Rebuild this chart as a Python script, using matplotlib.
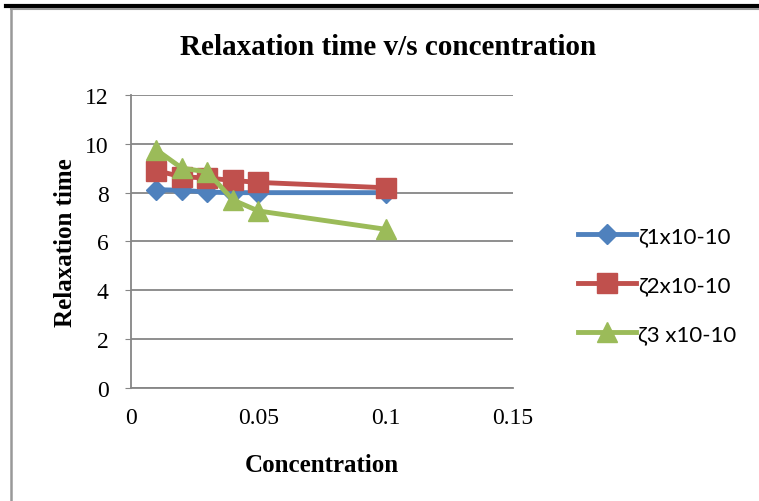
import matplotlib.pyplot as plt
from matplotlib.lines import Line2D

conc = [0.01, 0.02, 0.03, 0.04, 0.05, 0.1]
zeta1 = [8.12, 8.1, 8.02, 8.0, 8.0, 8.0]
zeta2 = [8.9, 8.65, 8.6, 8.5, 8.42, 8.2]
zeta3 = [9.75, 9.0, 8.85, 7.7, 7.25, 6.5]
labels = ['ζ1x10-10', 'ζ2x10-10', 'ζ3 x10-10']

xticks = [0, 0.05, 0.1, 0.15]
yticks = [0, 2, 4, 6, 8, 10, 12]

serif = 'Liberation Serif'
grid_col = '#868686'

fig = plt.figure(figsize=(7.59, 5.02), dpi=100)
ax = fig.add_axes([0.1726, 0.2251, 0.5033, 0.5837])

ax.plot(conc, zeta1, color='#4F81BD', lw=3.5, marker='D', ms=10,
        label=labels[0], zorder=3)
ax.plot(conc, zeta2, color='#C0504D', lw=3.5, marker='s', ms=14,
        label=labels[1], zorder=4)
ax.plot(conc, zeta3, color='#9BBB59', lw=3.5, marker='^', ms=14,
        label=labels[2], zorder=5)

ax.set_xlim(0, 0.15)
ax.set_ylim(0, 12)
ax.set_xticks(xticks)
ax.set_xticklabels(['0', '0.05', '0.1', '0.15'])
ax.set_yticks(yticks)
ax.grid(axis='y', color=grid_col, lw=1.3)
ax.set_axisbelow(True)
for s in ['top', 'right']:
    ax.spines[s].set_visible(False)
for s in ['left', 'bottom']:
    ax.spines[s].set_color(grid_col)
    ax.spines[s].set_linewidth(1.3)
ax.tick_params(axis='x', length=0, pad=14, labelsize=17)
ax.tick_params(axis='y', length=4, color=grid_col, pad=12, labelsize=17)
for lab in ax.get_xticklabels() + ax.get_yticklabels():
    lab.set_fontfamily(serif)

fig.text(0.511, 0.906, 'Relaxation time v/s concentration', fontsize=21,
         fontweight='bold', family=serif, ha='center', va='center')
ax.set_xlabel('Concentration', fontsize=18, fontweight='bold', family=serif,
              labelpad=18)
ax.set_ylabel('Relaxation time', fontsize=18, fontweight='bold', family=serif,
              labelpad=6)

fig.legend(loc='center left', bbox_to_anchor=(0.735, 0.43),
           frameon=False, handlelength=2.6, handletextpad=0.1,
           labelspacing=1.3, prop={'family': ['Lato', 'DejaVu Sans'], 'size': 16})

# chart frame and the rule above it
fig.add_artist(Line2D([0.008, 1], [0.987, 0.987], color='black', lw=3))
fig.add_artist(Line2D([0.014, 1], [0.981, 0.981], color='#999999', lw=1.5))
fig.add_artist(Line2D([0.0145, 0.0145], [0, 0.981], color='#999999', lw=1.8))

fig.savefig('out.png', dpi=100)
